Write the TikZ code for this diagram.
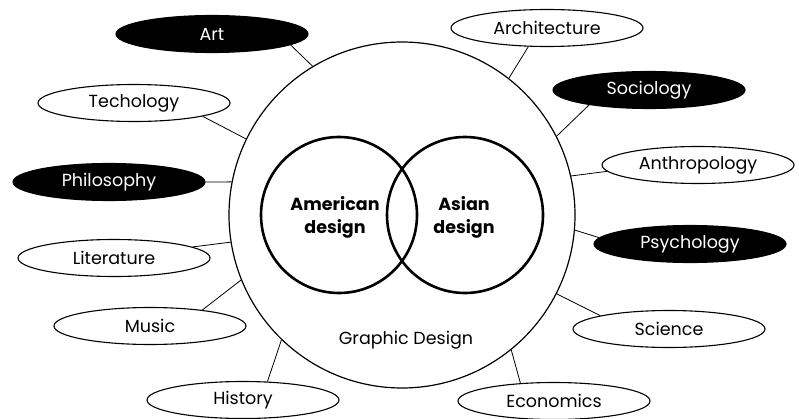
\documentclass[tikz,border=0pt]{standalone}
\usepackage{fontspec}
\setmainfont{Poppins}
\usetikzlibrary{shapes.geometric}

\begin{document}
\begin{tikzpicture}[x=1pt,y=1pt,
    every node/.style={font=\fontsize{17.5}{23}\selectfont},
    field/.style={ellipse,draw,line width=1.1pt,minimum width=192pt,minimum height=37pt,inner sep=0pt,fill=white},
    darkfield/.style={field,fill=black,text=white},
    link/.style={line width=0.8pt}]
    \useasboundingbox (0,0) rectangle (799,418);
    % the discipline and its two traditions
    \node[circle,draw,line width=1.2pt,minimum size=346pt,inner sep=0pt] (gd) at (402,203) {};
    \node[circle,draw,line width=2.6pt,minimum size=156pt,inner sep=0pt] (us) at (339,203) {};
    \node[circle,draw,line width=2.6pt,minimum size=156pt,inner sep=0pt] (asia) at (465,203) {};
    \node[align=center,font=\fontsize{17.5}{23}\selectfont\bfseries] (uslabel) at (335,201) {American\\design};
    \node[align=center,font=\fontsize{17.5}{23}\selectfont\bfseries] (asialabel) at (464,201) {Asian\\design};
    \node (gdlabel) at (406,78) {Graphic Design};
    % surrounding fields
    \node[darkfield] (art) at (212,384) {Art};
    \node[field] (arch) at (547,390) {Architecture};
    \node[field] (tech) at (134,315) {Techology};
    \node[darkfield] (soc) at (649,328) {Sociology};
    \node[darkfield] (phil) at (109,236) {Philosophy};
    \node[field] (anth) at (698,253) {Anthropology};
    \node[field] (lit) at (114,160) {Literature};
    \node[darkfield] (psy) at (690,174) {Psychology};
    \node[field] (music) at (150,92) {Music};
    \node[field] (sci) at (669,89) {Science};
    \node[field] (hist) at (243,18) {History};
    \node[field] (econ) at (554,17) {Economics};
    % links to the circle
    \draw[link] (art.-8) -- (gd.121);
    \draw[link] (tech.-11) -- (gd.154);
    \draw[link] (phil.east) -- (gd.169);
    \draw[link] (arch.-135) -- (gd.52);
    \draw[link] (soc.-166) -- (gd.27);
    \draw[link] (anth.-176) -- (gd.13);
    \draw[link] (lit.8) -- (gd.189);
    \draw[link] (music.17) -- (gd.202);
    \draw[link] (hist.37) -- (gd.226);
    \draw[link] (psy.176) -- (gd.-5);
    \draw[link] (sci.169) -- (gd.-27);
    \draw[link] (econ.152) -- (gd.-51);
\end{tikzpicture}
\end{document}
